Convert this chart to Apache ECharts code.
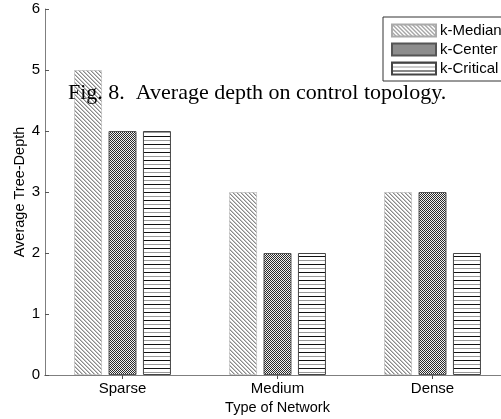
<!DOCTYPE html>
<html>
<head>
<meta charset="utf-8">
<script src="https://cdn.jsdelivr.net/npm/echarts@6/dist/echarts.min.js"></script>
<style>
  html, body { margin: 0; padding: 0; background: #fff; }
  #chart { width: 501px; height: 419px; }
</style>
</head>
<body>
<div id="chart"></div>
<script>
const categories = ['Sparse', 'Medium', 'Dense'];
const seriesNames = ['k-Median', 'k-Center', 'k-Critical'];
const kMedian = [5, 3, 3];
const kCenter = [4, 2, 3];
const kCritical = [4, 2, 2];
const yTicks = [0, 1, 2, 3, 4, 5, 6];

// hatch tiles drawn on small canvases
function makeTile(w, h, draw) {
  const c = document.createElement('canvas');
  c.width = w;
  c.height = h;
  const ctx = c.getContext('2d');
  ctx.fillStyle = '#fff';
  ctx.fillRect(0, 0, w, h);
  draw(ctx);
  return { image: c, repeat: 'repeat' };
}

const diagPattern = makeTile(4, 4, ctx => {
  ctx.fillStyle = '#8a8a8a';
  for (let i = 0; i < 4; i++) {
    ctx.fillRect(i, i, 1, 1);
  }
  ctx.fillStyle = '#c4c4c4';
  for (let i = 0; i < 4; i++) {
    ctx.fillRect((i + 1) % 4, i, 1, 1);
  }
});

const crossPattern = makeTile(2, 2, ctx => {
  ctx.fillStyle = '#2a2a2a';
  ctx.fillRect(0, 0, 1, 1);
  ctx.fillRect(1, 1, 1, 1);
  ctx.fillStyle = '#f0f0f0';
  ctx.fillRect(1, 0, 1, 1);
  ctx.fillRect(0, 1, 1, 1);
});

const horizPattern = makeTile(4, 8, ctx => {
  ctx.fillStyle = '#111';
  ctx.fillRect(0, 0, 4, 1);
  ctx.fillStyle = '#999';
  ctx.fillRect(0, 4, 4, 1);
});

const chart = echarts.init(document.getElementById('chart'));

const axisLine = { show: true, lineStyle: { color: '#7f7f7f', width: 1 } };
const sans = '"Liberation Sans", Arial, sans-serif';
const labelFont = { color: '#000', fontSize: 15, fontFamily: sans };

chart.setOption({
  animation: false,
  grid: { left: 45, top: 9, width: 465, bottom: 44, containLabel: false, outerBoundsMode: 'none' },
  legend: {
    data: seriesNames,
    orient: 'vertical',
    left: 383,
    top: 17,
    padding: [6, 40, 5, 8],
    itemWidth: 44,
    itemHeight: 12,
    itemGap: 4,
    backgroundColor: '#fff',
    borderColor: '#333',
    borderWidth: 1,
    borderRadius: 0,
    textStyle: { color: '#000', fontSize: 15, fontFamily: sans, padding: [0, 0, 0, -1] },
    icon: 'rect'
  },
  graphic: [{
    type: 'text',
    left: 68,
    top: 82,
    z: 100,
    style: {
      text: 'Fig. 8.  Average depth on control topology.',
      font: '22px "Liberation Serif", "Times New Roman", serif',
      fill: '#000'
    }
  }],
  xAxis: [{
    type: 'category',
    data: categories,
    position: 'bottom',
    axisLine: axisLine,
    axisTick: { show: true, inside: true, alignWithLabel: true, length: 4, lineStyle: { color: '#555' } },
    axisLabel: Object.assign({ margin: 6 }, labelFont),
    splitLine: { show: false },
    name: 'Type of Network',
    nameLocation: 'middle',
    nameMoveOverlap: false,
    nameGap: 25,
    nameTextStyle: Object.assign({}, labelFont, { fontSize: 14.5 })
  }, {
    type: 'category',
    data: categories,
    position: 'top',
    axisLine: axisLine,
    axisTick: { show: true, inside: true, alignWithLabel: true, length: 4, lineStyle: { color: '#555' } },
    axisLabel: { show: false }
  }],
  yAxis: [{
    type: 'value',
    min: yTicks[0],
    max: yTicks[yTicks.length - 1],
    interval: 1,
    axisLine: axisLine,
    axisTick: { show: true, inside: true, length: 4, lineStyle: { color: '#555' } },
    axisLabel: Object.assign({ margin: 5 }, labelFont),
    splitLine: { show: false },
    name: 'Average Tree-Depth',
    nameLocation: 'middle',
    nameMoveOverlap: false,
    nameGap: 18,
    nameTextStyle: Object.assign({}, labelFont, { fontSize: 14.5 })
  }, {
    type: 'value',
    min: yTicks[0],
    max: yTicks[yTicks.length - 1],
    interval: 1,
    position: 'right',
    axisLine: axisLine,
    axisTick: { show: false },
    axisLabel: { show: false },
    splitLine: { show: false }
  }],
  series: [{
    name: seriesNames[0],
    type: 'bar',
    data: kMedian,
    barWidth: 28,
    barGap: '23%',
    itemStyle: { color: diagPattern, borderColor: '#aaa', borderWidth: 1, borderType: 'dotted' }
  }, {
    name: seriesNames[1],
    type: 'bar',
    data: kCenter,
    barWidth: 28,
    barGap: '23%',
    itemStyle: { color: crossPattern, borderColor: '#555', borderWidth: 1 }
  }, {
    name: seriesNames[2],
    type: 'bar',
    data: kCritical,
    barWidth: 28,
    barGap: '23%',
    itemStyle: { color: horizPattern, borderColor: '#444', borderWidth: 1 }
  }]
});
</script>
</body>
</html>
